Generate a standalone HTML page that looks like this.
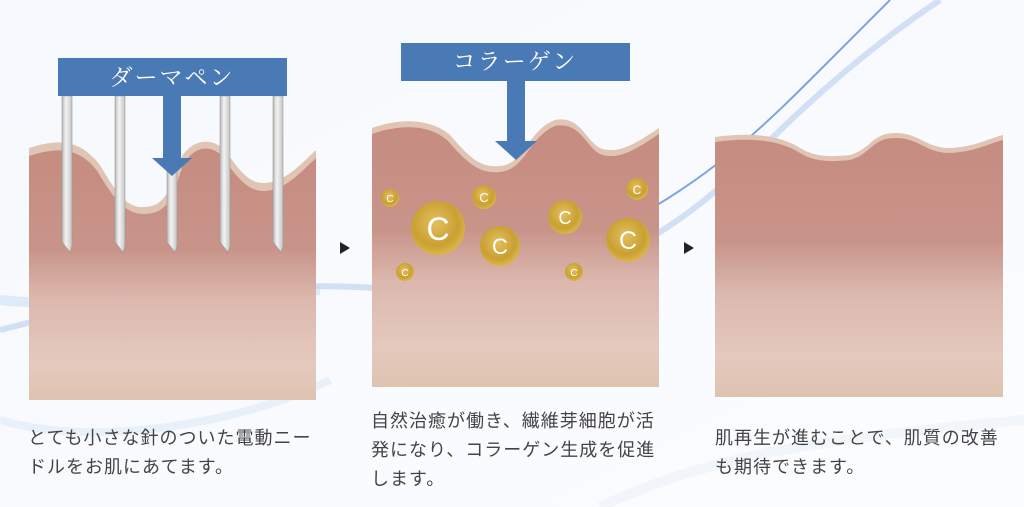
<!DOCTYPE html>
<html><head><meta charset="utf-8"><style>
html,body{margin:0;padding:0;width:1024px;height:507px;overflow:hidden;background:#fff}
svg{position:absolute;left:0;top:0}
.t{position:absolute;font-family:"Liberation Sans","Noto Sans CJK JP",sans-serif;font-size:18px;color:#444;line-height:29px;letter-spacing:1px;white-space:nowrap}
</style></head><body>
<svg width="1024" height="507" viewBox="0 0 1024 507">
<defs>
<linearGradient id="sk" x1="0" y1="0" x2="0" y2="1">
<stop offset="0" stop-color="#c68c80"/><stop offset="0.4" stop-color="#c8948a"/>
<stop offset="0.6" stop-color="#dcb8ae"/><stop offset="0.85" stop-color="#e4c9be"/><stop offset="1" stop-color="#dfc3b0"/>
</linearGradient>
<radialGradient id="gc" cx="0.45" cy="0.4" r="0.6">
<stop offset="0" stop-color="#e3c060"/><stop offset="0.7" stop-color="#c9a032"/><stop offset="1" stop-color="#dcb648"/>
</radialGradient>
<linearGradient id="nd" x1="0" x2="1"><stop offset="0" stop-color="#b8b8b8"/><stop offset="0.4" stop-color="#f4f4f4"/><stop offset="1" stop-color="#c4c4c4"/></linearGradient>
<linearGradient id="bg" x1="0" y1="0" x2="1" y2="1"><stop offset="0" stop-color="#f6f9fd"/><stop offset="1" stop-color="#fbfcfe"/></linearGradient>
</defs>
<rect width="1024" height="507" fill="url(#bg)"/>
<path d="M0 330 C150 290 300 280 400 290 C550 300 650 260 760 150 C820 90 880 40 940 0" stroke="#a9c6ec" stroke-width="6" fill="none" opacity="0.5"/>
<path d="M640 215 C720 170 770 120 820 70 C850 40 870 20 890 0" stroke="#5d8fdc" stroke-width="2" fill="none" opacity="0.8"/>
<path d="M0 300 C100 310 200 300 320 290" stroke="#c5d9f2" stroke-width="10" fill="none" opacity="0.5"/>
<path d="M0 420 C100 450 250 420 330 380" stroke="#cfe0f4" stroke-width="8" fill="none" opacity="0.4"/>
<path d="M600 507 C700 460 800 440 1024 420" stroke="#e4edf8" stroke-width="10" fill="none" opacity="0.4"/>

<path d="M29 148 C60 138 80 140 100 165 C120 200 130 208 145 207 C165 206 170 190 180 160 C190 140 210 136 225 150 C240 172 250 184 265 183 C285 182 300 165 316 150 L316 400 L29 400Z" fill="#e0c4b4"/>
<path d="M29 156 C60 146 80 148 98 172 C118 207 130 214 145 214 C168 213 172 198 182 168 C192 146 210 143 223 157 C238 180 250 192 265 191 C285 190 300 173 316 158 L316 400 L29 400Z" fill="url(#sk)"/>
<g stroke="#9a9a9a" stroke-width="0.6">
<path d="M62 96 h10 v150 l-2 6 l-8 -10Z" fill="url(#nd)"/>
<path d="M115 96 h10 v150 l-2 6 l-8 -10Z" fill="url(#nd)"/>
<path d="M167 96 h10 v150 l-2 6 l-8 -10Z" fill="url(#nd)"/>
<path d="M220 96 h10 v150 l-2 6 l-8 -10Z" fill="url(#nd)"/>
<path d="M273 96 h10 v150 l-2 6 l-8 -10Z" fill="url(#nd)"/>
</g>
<rect x="58" y="58" width="229" height="38" fill="#4a7ab6"/>
<text x="172" y="85" text-anchor="middle" font-family="Liberation Serif,Noto Serif CJK SC,serif" font-size="23" fill="#fff" letter-spacing="2">ダーマペン</text>
<path d="M163 96 h18 v62 h11 l-20 18 l-20 -18 h11Z" fill="#4a7ab6"/>

<path d="M372 128 C400 118 430 118 450 135 C470 158 480 168 500 166 C525 164 528 130 555 120 C580 115 585 140 600 148 C620 156 640 140 659 128 L659 387 L372 387Z" fill="#e0c4b4"/>
<path d="M372 134 C400 124 430 124 448 141 C468 164 480 174 500 172 C525 170 530 136 555 126 C580 121 585 146 600 154 C620 162 640 146 659 134 L659 387 L372 387Z" fill="url(#sk)"/>
<rect x="401" y="43" width="229" height="38" fill="#4a7ab6"/>
<text x="515" y="69" text-anchor="middle" font-family="Liberation Serif,Noto Serif CJK SC,serif" font-size="23" fill="#fff" letter-spacing="2">コラーゲン</text>
<path d="M507 81 h18 v60 h12 l-21 19 l-21 -19 h12Z" fill="#4a7ab6"/>
<g font-family="Liberation Sans,sans-serif" fill="#fff" text-anchor="middle">
<circle cx="390" cy="198" r="9" fill="url(#gc)"/><text x="390" y="202" font-size="10">C</text>
<circle cx="438" cy="228" r="27" fill="url(#gc)"/><text x="438" y="240" font-size="32">C</text>
<circle cx="484" cy="197" r="12" fill="url(#gc)"/><text x="484" y="202" font-size="13">C</text>
<circle cx="500" cy="246" r="20" fill="url(#gc)"/><text x="500" y="254" font-size="22">C</text>
<circle cx="565" cy="217" r="17" fill="url(#gc)"/><text x="565" y="224" font-size="18">C</text>
<circle cx="628" cy="240" r="22" fill="url(#gc)"/><text x="628" y="249" font-size="25">C</text>
<circle cx="637" cy="189" r="11" fill="url(#gc)"/><text x="637" y="194" font-size="12">C</text>
<circle cx="405" cy="272" r="9" fill="url(#gc)"/><text x="405" y="276" font-size="10">C</text>
<circle cx="574" cy="272" r="9" fill="url(#gc)"/><text x="574" y="276" font-size="10">C</text>
</g>

<path d="M715 137 C750 132 780 135 800 148 C815 157 830 157 850 155 C870 150 872 133 895 133 C920 133 925 148 950 148 C975 147 990 138 1003 135 L1003 397 L715 397Z" fill="#e0c4b4"/>
<path d="M715 142 C750 137 780 140 800 153 C815 162 830 162 850 160 C870 155 872 138 895 138 C920 138 925 153 950 153 C975 152 990 143 1003 140 L1003 397 L715 397Z" fill="url(#sk)"/>

<path d="M340 242 l10 6 l-10 6Z" fill="#222"/>
<path d="M684 242 l10 6 l-10 6Z" fill="#222"/>
</svg>
<div class="t" style="left:28px;top:424px">とても小さな針のついた電動ニー<br>ドルをお肌にあてます。</div>
<div class="t" style="left:371px;top:407px">自然治癒が働き、繊維芽細胞が活<br>発になり、コラーゲン生成を促進<br>します。</div>
<div class="t" style="left:715px;top:424px">肌再生が進むことで、肌質の改善<br>も期待できます。</div>
</body></html>
